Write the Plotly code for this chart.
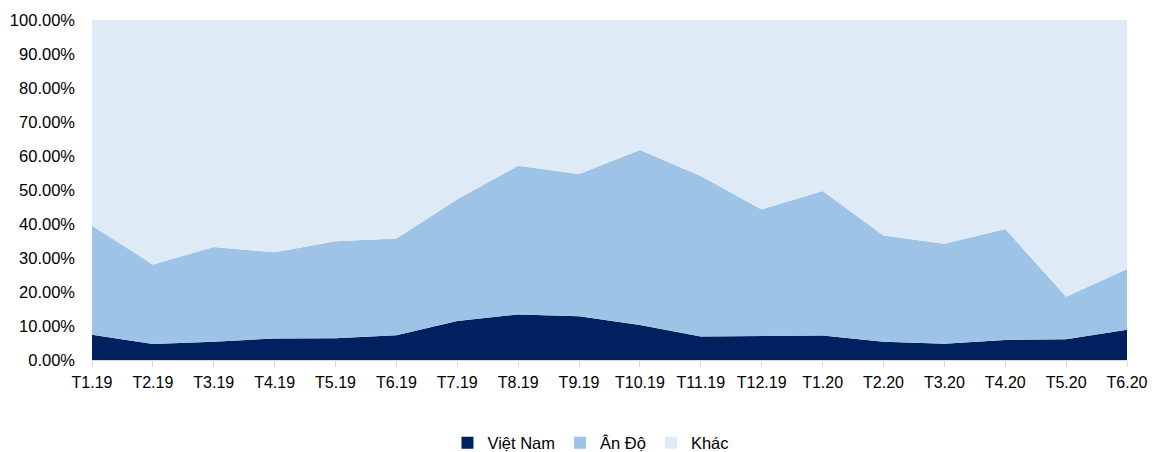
import plotly.graph_objects as go

months = ["T1.19", "T2.19", "T3.19", "T4.19", "T5.19", "T6.19", "T7.19", "T8.19", "T9.19",
          "T10.19", "T11.19", "T12.19", "T1.20", "T2.20", "T3.20", "T4.20", "T5.20", "T6.20"]
viet_nam = [7.4, 4.7, 5.4, 6.3, 6.4, 7.3, 11.5, 13.4, 12.9, 10.3, 6.9, 7.0, 7.2, 5.4, 4.8, 5.9, 6.1, 8.9]
combined_top = [39.5, 28.1, 33.2, 31.7, 34.9, 35.7, 47.3, 57.1, 54.7, 61.8, 54.1, 44.3, 49.7, 36.6, 34.2, 38.5, 18.6, 26.8]
an_do = [round(c - v, 2) for c, v in zip(combined_top, viet_nam)]
khac = [round(100 - c, 2) for c in combined_top]

names = ["Việt Nam", "Ân Độ", "Khác"]
colors = ["#002060", "#9DC3E6", "#DEEBF7"]
series = [viet_nam, an_do, khac]

fig = go.Figure()
for name, col, vals in zip(names, colors, series):
    fig.add_trace(go.Scatter(
        x=list(range(len(months))), y=[v / 100 for v in vals], name=name,
        stackgroup="one", mode="lines", line=dict(width=0, color=col),
        fillcolor=col, hoverinfo="x+y+name", showlegend=False))
# legend-only square markers
for name, col in zip(names, colors):
    fig.add_trace(go.Bar(x=[None], y=[None], name=name, marker=dict(color=col, line=dict(width=0)),
                         showlegend=True, hoverinfo="skip"))

font = "Liberation Sans"
fig.update_layout(
    width=1152, height=452,
    margin=dict(l=92, r=25, t=20, b=92, autoexpand=False),
    paper_bgcolor="white", plot_bgcolor="white",
    font=dict(family=font, size=16, color="#000000"),
    showlegend=True,
    legend=dict(orientation="h", x=0.513, xanchor="center", xref="container",
                y=(452 - 443) / 452, yanchor="middle", yref="container",
                font=dict(size=16.5, color="#000000"), traceorder="normal",
                itemwidth=30, itemclick=False, itemdoubleclick=False),
    xaxis=dict(
        tickmode="array", tickvals=list(range(len(months))), ticktext=months,
        range=[0, len(months) - 1], showgrid=False, zeroline=False,
        showline=True, linecolor="#D9D9D9", linewidth=1,
        ticks="outside", ticklen=6, tickcolor="#D9D9D9", ticklabelstandoff=2,
        tickfont=dict(size=16), fixedrange=True, automargin=False),
    yaxis=dict(
        range=[0, 1], tickformat=".2%", dtick=0.1, showgrid=True, gridcolor="#D9D9D9",
        zeroline=False, showline=False, ticks="", ticklabelstandoff=16,
        tickfont=dict(size=16.5), fixedrange=True, automargin=False),
)

fig.write_html("out.html")
